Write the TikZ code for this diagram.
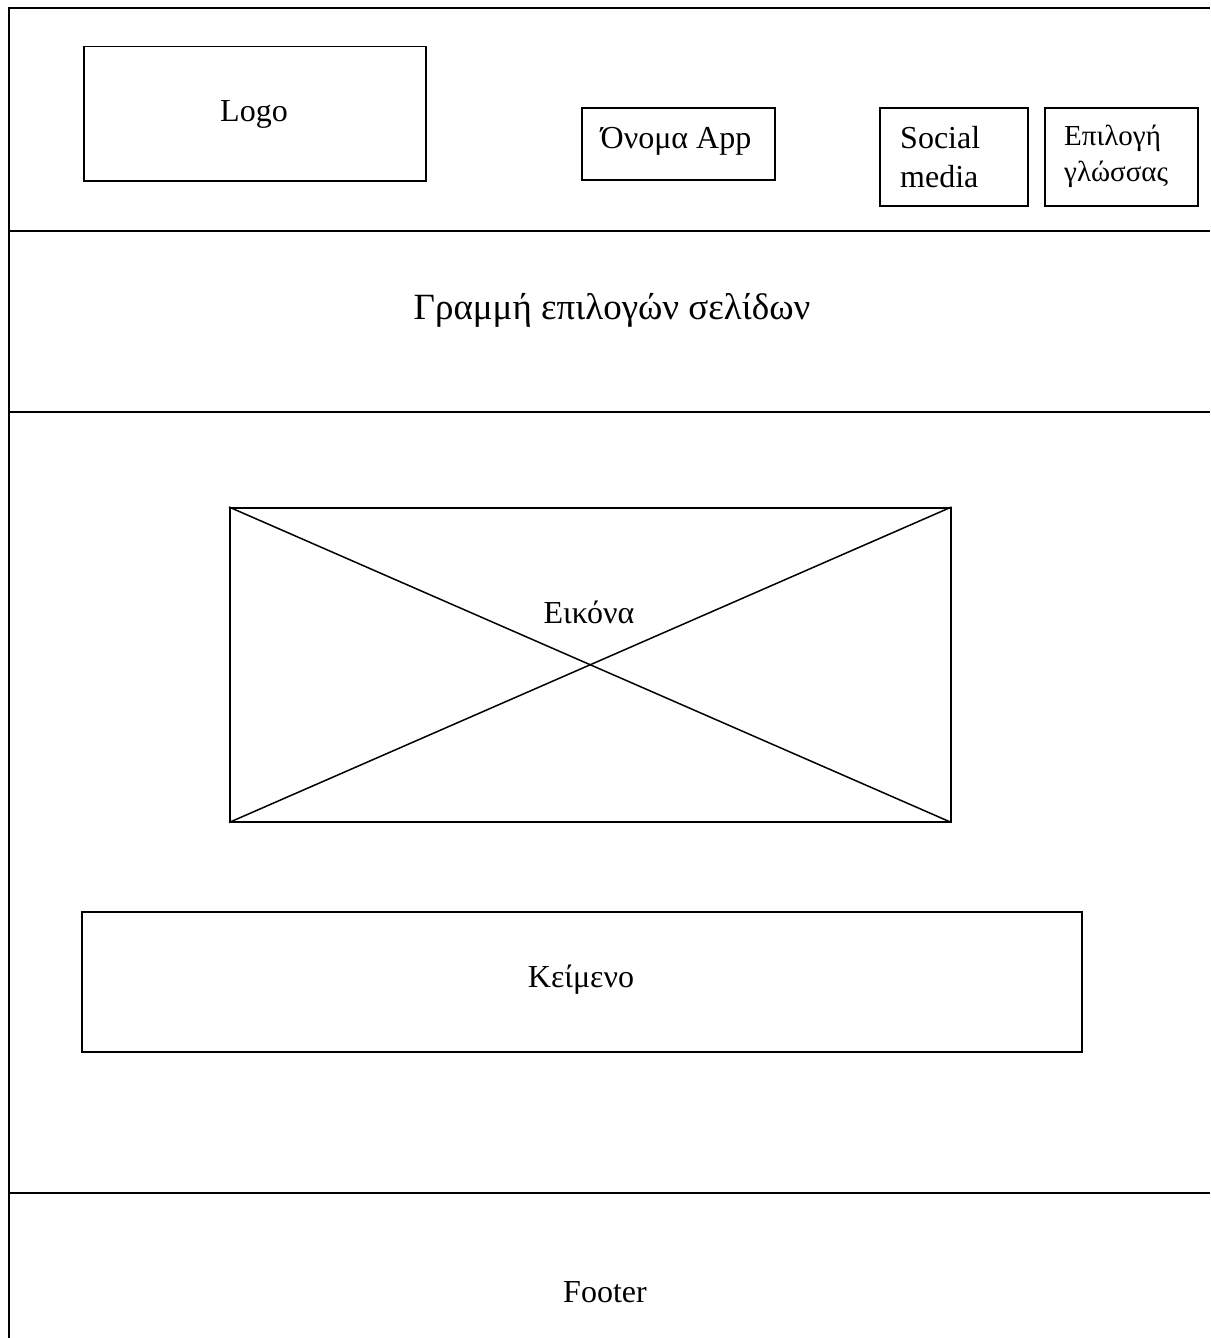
\documentclass[tikz,border=0pt]{standalone}
\usepackage{fontspec}
\setmainfont{Liberation Serif}
\begin{document}
\begin{tikzpicture}[x=1pt,y=-1pt,
  frame/.style={line width=1.5pt,black},
  box/.style={draw,line width=1.5pt,rectangle,inner sep=0pt,anchor=north west},
  txt/.style={font=\fontsize{32}{39}\selectfont,inner sep=0pt},
  small/.style={font=\fontsize{29}{36}\selectfont,inner sep=0pt,align=left},
  big/.style={font=\fontsize{37}{44}\selectfont,inner sep=0pt}]
  \useasboundingbox (0,0) rectangle (1210,1338);

  % page frame and section dividers
  \coordinate (tl) at (9,8);
  \coordinate (tr) at (1210,8);
  \coordinate (bl) at (9,1338);
  \draw[frame] (tr) -- (tl) -- (bl);
  \draw[frame] (9,231) -- (1210,231);
  \draw[frame] (9,412) -- (1210,412);
  \draw[frame] (9,1193) -- (1210,1193);

  % header
  \node[box,minimum width=342,minimum height=134] (logo) at (83,46) {};
  \node[txt] at (254,114) {Logo};
  \node[box,minimum width=193,minimum height=72] (appname) at (581,107) {};
  \node[txt] at (676,141) {Όνομα App};
  \node[box,minimum width=148,minimum height=98] (social) at (879,107) {};
  \node[txt,align=left,anchor=west] at (900,157) {Social\\media};
  \node[box,minimum width=153,minimum height=98] (lang) at (1044,107) {};
  \node[small,anchor=west] at (1064,156) {Επιλογή\\γλώσσας};

  % navigation bar
  \node[big] (nav) at (612,310) {Γραμμή επιλογών σελίδων};

  % image placeholder
  \node[box,minimum width=721,minimum height=314] (img) at (229,507) {};
  \draw[line width=1.5pt] (img.north west) -- (img.south east);
  \draw[line width=1.5pt] (img.south west) -- (img.north east);
  \node[txt] (imglabel) at (589,612) {Εικόνα};

  % text block
  \node[box,minimum width=1000,minimum height=140] (textbox) at (81,911) {};
  \node[txt] at (581,980) {Κείμενο};

  % footer
  \node[txt] (footer) at (605,1292) {Footer};
\end{tikzpicture}
\end{document}
